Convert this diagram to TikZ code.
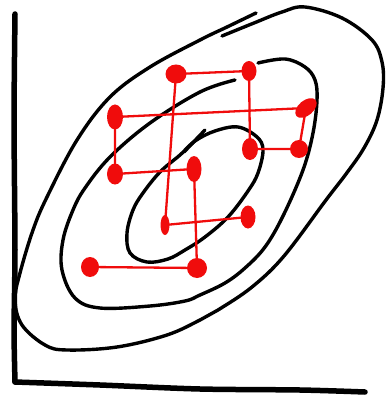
\documentclass[tikz,border=0pt]{standalone}
\usetikzlibrary{shapes.geometric}
\definecolor{dotred}{RGB}{240,12,12}
\begin{document}
\begin{tikzpicture}[x=1pt,y=-1pt,
  contour/.style={line width=3.4pt, line cap=round, line join=round},
  axisline/.style={line width=5.5pt, line cap=round, line join=round},
  walk/.style={draw=dotred, line width=2.3pt, line cap=round},
  rdot/.style={ellipse, fill=dotred, inner sep=0pt}]
\useasboundingbox (0,0) rectangle (385,398);
% axes
\draw[axisline] plot[smooth, tension=0.4] coordinates {(15,14) (14,120) (15,250) (14,330) (15,382)};
\draw[axisline] plot[smooth, tension=0.5] coordinates {(15,382) (100,385) (200,389) (300,390) (365,392)};
% outer contour (open stroke, overlapping at top-left)
\draw[contour] plot[smooth, tension=0.6] coordinates {
 (222,36) (254,23) (282,12) (305,7) (342,18) (372,40) (382,62) (383,88) (377,120)
 (364,148) (346,174) (326,200) (284,256) (252,287) (218,310) (200,320)
 (167,335) (117,347) (67,350) (45,345) (22,325) (15,300) (20,273) (33,230) (47,197)
 (77,140) (110,97) (150,67) (200,40) (227,27) (256,13)};
% middle contour
\draw[contour] plot[smooth, tension=0.6] coordinates {
 (258,63) (285,59) (305,67) (315,80) (317,100) (313,133) (303,170)
 (283,216) (265,247) (245,268) (225,283) (200,295) (185,301) (150,306) (100,308)
 (75,298) (62,270) (63,240) (73,210) (85,188) (110,157) (150,123) (200,92) (235,80)};
% inner contour
\draw[contour] plot[smooth cycle, tension=0.6] coordinates {
 (215,131) (238,127) (257,137) (263,150) (258,173) (248,191) (228,217) (205,237)
 (185,250) (168,259) (147,262) (130,253) (127,233) (133,210) (143,193) (160,172)
 (180,155) (195,141)};
\draw[contour] (205,130) -- (184,152);
% sample points
\node[rdot, minimum width=18pt, minimum height=20pt] (p11) at (90,267) {};
\node[rdot, minimum width=20pt, minimum height=20pt] (p12) at (197,268) {};
\node[rdot, minimum width=15pt, minimum height=26pt] (p8) at (194,169) {};
\node[rdot, minimum width=16pt, minimum height=21pt] (p7) at (115,174) {};
\node[rdot, minimum width=16pt, minimum height=25pt] (p3) at (115,117) {};
\node[rdot, minimum width=25pt, minimum height=15pt, rotate=40] (p4) at (306,108) {};
\node[rdot, minimum width=18pt, minimum height=18pt] (p6) at (299,149) {};
\node[rdot, minimum width=16pt, minimum height=22pt] (p5) at (250,149) {};
\node[rdot, minimum width=15pt, minimum height=20pt] (p2) at (249,71) {};
\node[rdot, minimum width=21pt, minimum height=19pt] (p1) at (176,74) {};
\node[rdot, minimum width=9pt, minimum height=20pt] (p9) at (165,225) {};
\node[rdot, minimum width=15pt, minimum height=23pt] (p10) at (248,217) {};
% Gibbs walk
\draw[walk] (p11.center) -- (p12.center) -- (p8.center) -- (p7.center) -- (p3.center)
  -- (p4.center) -- (p6.center) -- (p5.center) -- (p2.center) -- (p1.center)
  -- (p9.center) -- (p10.center);
\end{tikzpicture}
\end{document}
